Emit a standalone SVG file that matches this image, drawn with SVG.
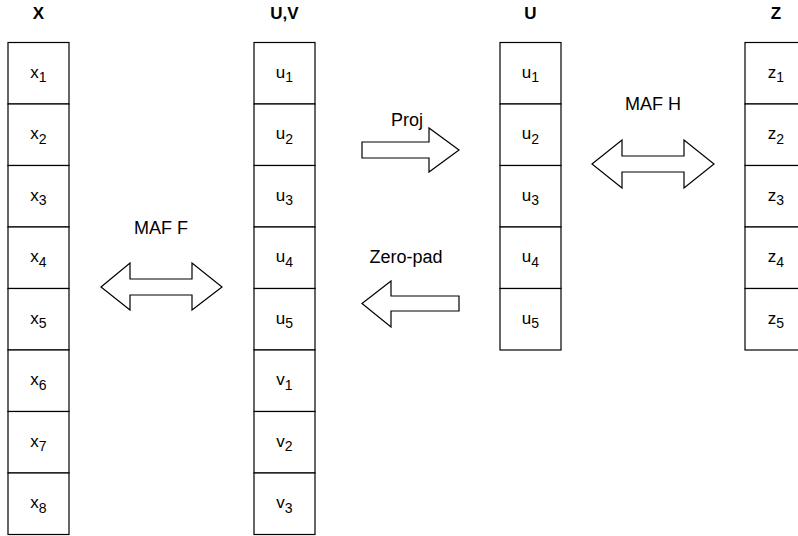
<svg xmlns="http://www.w3.org/2000/svg" width="798" height="536" viewBox="0 0 798 536">
<style>
.cell{fill:#fff;stroke:#000;stroke-width:1.2}
.arr{fill:#fff;stroke:#000;stroke-width:1.2;stroke-linejoin:miter}
.t{font-family:"Liberation Sans",Arial,sans-serif;font-size:17px;fill:#000;text-anchor:middle}
.h{font-family:"Liberation Sans",Arial,sans-serif;font-size:17px;font-weight:bold;fill:#000;text-anchor:middle}
.lbl{font-family:"Liberation Sans",Arial,sans-serif;font-size:18px;fill:#000;text-anchor:middle}
.s{font-size:14px}
</style>
<rect width="798" height="536" fill="#fff"/>
<g id="titles">
<text class="h" x="38.5" y="19">X</text>
<text class="h" x="284.5" y="19">U,V</text>
<text class="h" x="530.5" y="19">U</text>
<text class="h" x="776" y="19">Z</text>
</g>
<g id="colX">
<rect class="cell" x="8" y="42.5" width="61" height="61.5"/>
<rect class="cell" x="8" y="104" width="61" height="61.5"/>
<rect class="cell" x="8" y="165.5" width="61" height="61.5"/>
<rect class="cell" x="8" y="227" width="61" height="61.5"/>
<rect class="cell" x="8" y="288.5" width="61" height="61.5"/>
<rect class="cell" x="8" y="350" width="61" height="61.5"/>
<rect class="cell" x="8" y="411.5" width="61" height="61.5"/>
<rect class="cell" x="8" y="473" width="61" height="61.5"/>
<text class="t" x="38.5" y="77.5">x<tspan class="s" dy="4.5">1</tspan></text>
<text class="t" x="38.5" y="139">x<tspan class="s" dy="4.5">2</tspan></text>
<text class="t" x="38.5" y="200.5">x<tspan class="s" dy="4.5">3</tspan></text>
<text class="t" x="38.5" y="262">x<tspan class="s" dy="4.5">4</tspan></text>
<text class="t" x="38.5" y="323.5">x<tspan class="s" dy="4.5">5</tspan></text>
<text class="t" x="38.5" y="385">x<tspan class="s" dy="4.5">6</tspan></text>
<text class="t" x="38.5" y="446.5">x<tspan class="s" dy="4.5">7</tspan></text>
<text class="t" x="38.5" y="508">x<tspan class="s" dy="4.5">8</tspan></text>
</g>
<g id="colUV">
<rect class="cell" x="254" y="42.5" width="61" height="61.5"/>
<rect class="cell" x="254" y="104" width="61" height="61.5"/>
<rect class="cell" x="254" y="165.5" width="61" height="61.5"/>
<rect class="cell" x="254" y="227" width="61" height="61.5"/>
<rect class="cell" x="254" y="288.5" width="61" height="61.5"/>
<rect class="cell" x="254" y="350" width="61" height="61.5"/>
<rect class="cell" x="254" y="411.5" width="61" height="61.5"/>
<rect class="cell" x="254" y="473" width="61" height="61.5"/>
<text class="t" x="284.5" y="77.5">u<tspan class="s" dy="4.5">1</tspan></text>
<text class="t" x="284.5" y="139">u<tspan class="s" dy="4.5">2</tspan></text>
<text class="t" x="284.5" y="200.5">u<tspan class="s" dy="4.5">3</tspan></text>
<text class="t" x="284.5" y="262">u<tspan class="s" dy="4.5">4</tspan></text>
<text class="t" x="284.5" y="323.5">u<tspan class="s" dy="4.5">5</tspan></text>
<text class="t" x="284.5" y="385">v<tspan class="s" dy="4.5">1</tspan></text>
<text class="t" x="284.5" y="446.5">v<tspan class="s" dy="4.5">2</tspan></text>
<text class="t" x="284.5" y="508">v<tspan class="s" dy="4.5">3</tspan></text>
</g>
<g id="colU">
<rect class="cell" x="500" y="42.5" width="61" height="61.5"/>
<rect class="cell" x="500" y="104" width="61" height="61.5"/>
<rect class="cell" x="500" y="165.5" width="61" height="61.5"/>
<rect class="cell" x="500" y="227" width="61" height="61.5"/>
<rect class="cell" x="500" y="288.5" width="61" height="61.5"/>
<text class="t" x="530.5" y="77.5">u<tspan class="s" dy="4.5">1</tspan></text>
<text class="t" x="530.5" y="139">u<tspan class="s" dy="4.5">2</tspan></text>
<text class="t" x="530.5" y="200.5">u<tspan class="s" dy="4.5">3</tspan></text>
<text class="t" x="530.5" y="262">u<tspan class="s" dy="4.5">4</tspan></text>
<text class="t" x="530.5" y="323.5">u<tspan class="s" dy="4.5">5</tspan></text>
</g>
<g id="colZ">
<rect class="cell" x="745" y="42.5" width="61" height="61.5"/>
<rect class="cell" x="745" y="104" width="61" height="61.5"/>
<rect class="cell" x="745" y="165.5" width="61" height="61.5"/>
<rect class="cell" x="745" y="227" width="61" height="61.5"/>
<rect class="cell" x="745" y="288.5" width="61" height="61.5"/>
<text class="t" x="776" y="77.5">z<tspan class="s" dy="4.5">1</tspan></text>
<text class="t" x="776" y="139">z<tspan class="s" dy="4.5">2</tspan></text>
<text class="t" x="776" y="200.5">z<tspan class="s" dy="4.5">3</tspan></text>
<text class="t" x="776" y="262">z<tspan class="s" dy="4.5">4</tspan></text>
<text class="t" x="776" y="323.5">z<tspan class="s" dy="4.5">5</tspan></text>
</g>
<g id="connectors">
<g id="mafF">
<path class="arr" d="M101,287 L130,263 L130,279 L192,279 L192,263 L222,287 L192,310 L192,295 L130,295 L130,310 Z"/>
<text class="lbl" x="161" y="234">MAF F</text>
</g>
<g id="proj">
<path class="arr" d="M362,142 L429,142 L429,128 L459,150 L429,172 L429,158 L362,158 Z"/>
<text class="lbl" x="407" y="126">Proj</text>
</g>
<g id="zeropad">
<path class="arr" d="M459,296 L391,296 L391,281 L362,303.5 L391,327 L391,311 L459,311 Z"/>
<text class="lbl" x="406" y="263">Zero-pad</text>
</g>
<g id="mafH">
<path class="arr" d="M592,164 L622,140 L622,156 L684,156 L684,140 L714,164 L684,188 L684,172 L622,172 L622,188 Z"/>
<text class="lbl" x="653" y="110">MAF H</text>
</g>
</g>
</svg>
